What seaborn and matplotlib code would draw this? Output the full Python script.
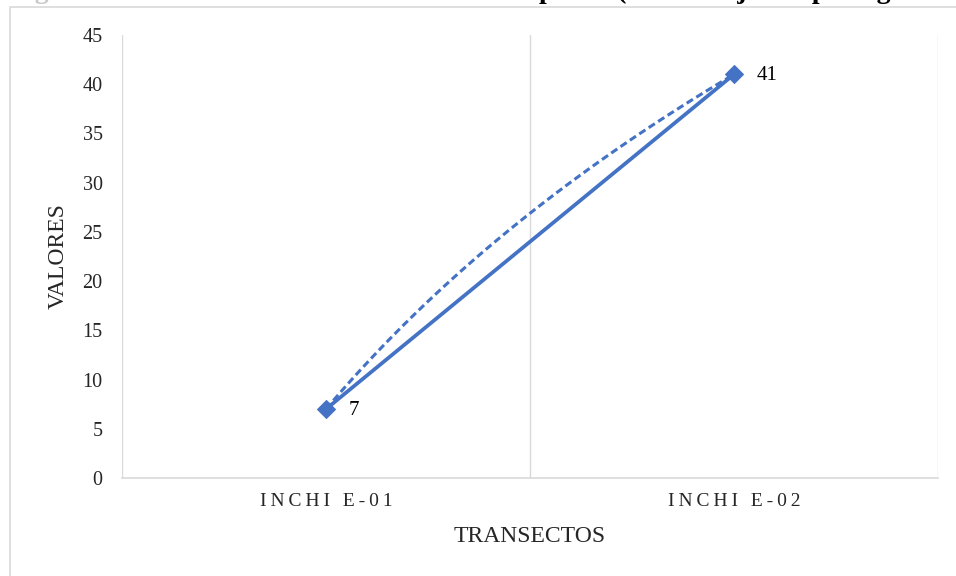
import numpy as np
import pandas as pd
import matplotlib
matplotlib.use("Agg")
import matplotlib.pyplot as plt
from matplotlib.patches import Rectangle
import seaborn as sns

# Data
transectos = ["INCHI E-01", "INCHI E-02"]
especies = [7, 41]

sns.set_theme(style="white")
plt.rcParams["font.family"] = ["Liberation Serif", "DejaVu Serif"]

blue = "#4472C4"
grid_c = "#D9D9D9"

fig = plt.figure(figsize=(9.56, 5.76), dpi=100)
ax = fig.add_axes([122 / 956, 1 - 478 / 576, (938 - 122) / 956, (478 - 35) / 576])

pos = np.arange(len(transectos))
df = pd.DataFrame({"pos": pos, "valor": especies})

# Logarithmic trend line fitted on the observed values (x = 1, 2, ...)
xs = pos + 1
a, b = np.polyfit(np.log(xs), df["valor"], 1)
xt = np.linspace(xs[0], xs[-1], 100)
trend = pd.DataFrame({"pos": xt - 1, "valor": a * np.log(xt) + b})

sns.lineplot(data=df, x="pos", y="valor", ax=ax, color=blue, linewidth=2.7,
             marker="D", markersize=9.5, markeredgecolor=blue, zorder=3)
sns.lineplot(data=trend, x="pos", y="valor", ax=ax, color=blue, linewidth=2.2,
             linestyle=(0, (2.4, 1.3)), zorder=2)

for p, v in zip(pos, especies):
    ax.annotate(str(v), (p, v), xytext=(16, -1), textcoords="offset points",
                ha="left", va="center", fontsize=15, color="#000000")

ax.set_xlim(-0.5, len(transectos) - 0.5)
ax.set_ylim(0, 45)
ax.set_yticks(np.arange(0, 46, 5))
ax.set_xticks(pos)
spaced = ["\u2009".join(list(t)) for t in transectos]
ax.set_xticklabels(spaced, fontsize=14)
ax.set_xticks(np.arange(-0.5, len(transectos)), minor=True)
ax.grid(False)
ax.xaxis.grid(True, which="minor", color=grid_c, linewidth=1.0)
ax.tick_params(axis="both", which="both", length=0)
ax.tick_params(axis="y", labelsize=14.5, pad=14)
ax.tick_params(axis="x", pad=11)
for s in ["top", "left", "right"]:
    ax.spines[s].set_visible(False)
ax.spines["bottom"].set_color(grid_c)
ax.spines["bottom"].set_linewidth(1.2)

ax.set_xlabel("TRANSECTOS", fontsize=17, labelpad=11)
ax.set_ylabel("VALORES", fontsize=17, labelpad=10)

# Chart frame
fig.patches.append(Rectangle((10 / 956, -0.1), 1.0, 1 - 7 / 576 + 0.1,
                             transform=fig.transFigure, fill=False,
                             edgecolor=grid_c, linewidth=1.2))

# Caption line above the chart (only its lower edge falls inside the figure)
cap_y = 1 + 2 / 576
fig.text(10 / 956, cap_y, "Figura 12.", fontsize=20, color="#C8C8C8",
         fontweight="bold", ha="left", va="baseline")
fig.text(205 / 956, cap_y,
         "Curva de acumulación de especies (Escarabajos Coprófagos",
         fontsize=20, color="#000000", fontweight="bold", ha="left", va="baseline")

fig.savefig("out.png", dpi=100)
